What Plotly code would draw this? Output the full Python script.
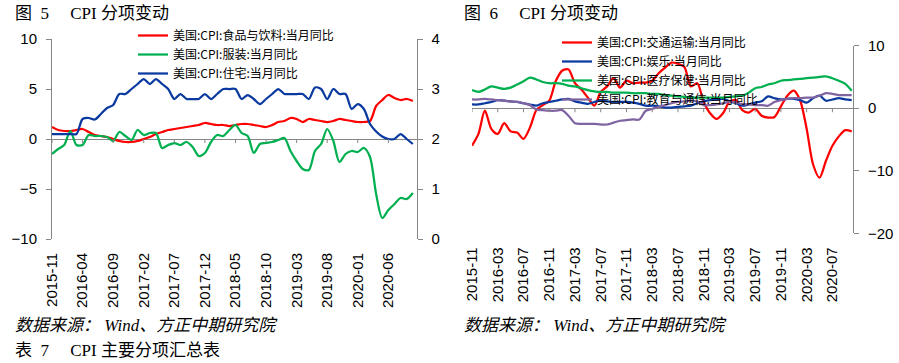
import pandas as pd
import plotly.graph_objects as go

# ---------------- data ----------------
months = list(pd.period_range("2015-11", periods=60, freq="M").strftime("%Y-%m"))

left_ticks = ["2015-11", "2016-04", "2016-09", "2017-02", "2017-07", "2017-12",
              "2018-05", "2018-10", "2019-03", "2019-08", "2020-01", "2020-06"]
right_ticks = ["2015-11", "2016-03", "2016-07", "2016-11", "2017-03", "2017-07",
               "2017-11", "2018-03", "2018-07", "2018-11", "2019-03", "2019-07",
               "2019-11", "2020-03", "2020-07"]

# Figure 5 (left chart)
food = [1.2, 0.9, 0.8, 0.8, 0.9, 1.0, 0.7, 0.4, 0.3, 0.2,
        0.0, -0.2, -0.3, -0.3, -0.2, 0.0, 0.2, 0.5, 0.7, 0.9,
        1.0, 1.1, 1.2, 1.3, 1.4, 1.6, 1.5, 1.4, 1.4, 1.3,
        1.4, 1.5, 1.5, 1.4, 1.3, 1.2, 1.4, 1.7, 1.8, 2.1,
        2.0, 1.7, 2.0, 1.9, 1.8, 1.7, 1.8, 2.0, 1.9, 1.8,
        1.7, 1.7, 1.8, 3.3, 3.9, 4.4, 4.1, 3.9, 4.0, 3.8]
apparel = [-1.5, -1.0, -0.6, 0.8, -0.6, -0.6, 0.4, 0.3, 0.3, 0.2,
           -0.2, 0.7, 0.3, -0.1, 0.9, 0.4, 0.6, 0.6, -0.9, -0.6,
           -0.4, -0.6, -0.3, -0.8, -1.7, -1.4, -0.3, 0.4, 0.3, 0.9,
           1.4, 0.6, 0.3, -1.4, -0.5, -0.4, -0.3, -0.1, 0.1, -1.2,
           -2.2, -3.0, -3.1, -1.2, -0.5, 1.0, -0.2, -2.3, -1.5, -1.2,
           -1.3, -0.9, -1.8, -5.5, -7.9, -7.1, -6.5, -5.9, -6.0, -5.4]
housing = [2.1, 2.1, 2.1, 2.1, 2.1, 2.4, 2.42, 2.39, 2.5, 2.62,
           2.68, 2.9, 2.9, 3.0, 3.1, 3.2, 3.1, 3.2, 3.1, 3.0,
           2.8, 2.9, 2.8, 2.8, 2.8, 2.9, 2.8, 2.9, 3.0, 3.0,
           3.0, 2.8, 2.88, 2.8, 2.7, 2.8, 2.9, 3.0, 2.9, 2.9,
           2.9, 2.9, 2.8, 3.03, 3.0, 2.8, 3.0, 2.9, 2.9, 2.6,
           2.7, 2.6, 2.3, 2.15, 2.05, 2.0, 2.0, 2.1, 2.0, 1.9]

# Figure 6 (right chart)
transport = [-6.0, -4.1, -0.4, -3.3, -4.1, -2.4, -3.7, -3.9, -4.9, -3.1,
             -0.3, 0.5, 1.2, 4.3, 6.0, 6.2, 4.0, 3.0, 1.7, 0.4,
             2.6, 3.5, 4.8, 3.3, 4.4, 4.0, 4.1, 4.1, 4.4, 5.6,
             6.5, 7.3, 7.1, 6.6, 3.5, 4.0, 1.0, -0.8, -1.7, -0.8,
             1.0, 1.3, -0.3, -0.7, -0.1, -1.2, -1.5, -1.4, 0.3, 2.0,
             2.8, 1.2, -3.3, -9.0, -11.1, -8.4, -6.0, -4.5, -3.5, -3.7]
recreation = [0.6, 0.6, 0.8, 1.0, 1.3, 1.2, 1.1, 1.0, 0.8, 0.6,
              0.4, 0.8, 1.0, 1.2, 1.4, 1.5, 1.1, 0.9, 0.7, 1.0,
              1.2, 1.1, 1.0, 1.0, 1.0, 0.9, 0.7, 0.4, 0.4, 0.3,
              0.1, 0.1, 0.2, 0.3, 0.4, 0.8, 1.1, 1.3, 1.4, 1.5,
              1.1, 0.8, 0.4, 0.6, 0.9, 1.1, 1.9, 1.6, 1.4, 1.5,
              1.5, 1.3, 0.9, 1.6, 2.0, 1.2, 1.4, 1.6, 1.4, 1.3]
medical = [2.9, 2.6, 3.0, 3.5, 3.3, 3.1, 3.3, 3.8, 4.3, 4.9,
           4.6, 4.2, 4.0, 4.0, 3.9, 3.6, 3.5, 3.2, 2.9, 2.7,
           2.6, 2.6, 2.5, 2.5, 2.5, 2.4, 2.4, 2.4, 2.3, 2.3,
           2.1, 2.0, 1.9, 1.8, 1.7, 1.7, 1.7, 1.7, 1.7, 1.7,
           1.8, 1.9, 2.0, 2.5, 3.2, 3.4, 3.8, 4.0, 4.4, 4.5,
           4.6, 4.7, 4.8, 4.9, 5.0, 5.1, 4.8, 4.4, 3.9, 2.8]
education = [1.4, 1.4, 1.5, 1.4, 1.3, 1.2, 1.1, 1.0, 0.8, 0.5,
             -0.2, -0.3, -0.4, -0.4, -0.3, -1.2, -2.4, -2.5, -2.5, -2.5,
             -2.6, -2.6, -2.3, -2.0, -1.9, -1.8, -1.8, -0.4, -0.1, 0.2,
             0.5, 0.8, 1.0, 1.1, 1.2, 1.1, 0.5, 0.5, 0.6, 0.8,
             1.0, 0.9, 0.7, 0.6, 0.5, 0.5, 0.4, 1.0, 1.3, 1.5,
             1.6, 1.6, 1.7, 1.7, 2.0, 2.4, 2.3, 2.1, 2.1, 2.1]

# ---------------- layout helpers ----------------
W, H = 899, 363


def px(x):
    return x / W


def py(y):
    return 1 - y / H


AXIS_GRAY = "#868686"
TICK_FONT = dict(family="Liberation Sans, Arial, sans-serif", size=15, color="#000000")
LEG_FONT = dict(family="Noto Sans CJK SC, sans-serif", size=12, color="#000000")
TXT_FONT = "Liberation Serif, Noto Sans CJK SC, serif"

RED, GREEN, BLUE, PURPLE = "#FF0000", "#00B050", "#0A3A9F", "#8064A2"


def line(color):
    return dict(color=color, width=2.25, shape="spline", smoothing=0.8)


fig = go.Figure()

# left chart
fig.add_trace(go.Scatter(x=months, y=food, name="美国:CPI:食品与饮料:当月同比",
                         xaxis="x", yaxis="y", mode="lines", line=line(RED), legend="legend"))
fig.add_trace(go.Scatter(x=months, y=apparel, name="美国:CPI:服装:当月同比",
                         xaxis="x", yaxis="y", mode="lines", line=line(GREEN), legend="legend"))
fig.add_trace(go.Scatter(x=months, y=housing, name="美国:CPI:住宅:当月同比",
                         xaxis="x", yaxis="y2", mode="lines", line=line(BLUE), legend="legend"))

# right chart
fig.add_trace(go.Scatter(x=months, y=transport, name="美国:CPI:交通运输:当月同比",
                         xaxis="x2", yaxis="y3", mode="lines", line=line(RED), legend="legend2"))
fig.add_trace(go.Scatter(x=months, y=recreation, name="美国:CPI:娱乐:当月同比",
                         xaxis="x2", yaxis="y3", mode="lines", line=line(BLUE), legend="legend2"))
fig.add_trace(go.Scatter(x=months, y=medical, name="美国:CPI:医疗保健:当月同比",
                         xaxis="x2", yaxis="y3", mode="lines", line=line(GREEN), legend="legend2"))
fig.add_trace(go.Scatter(x=months, y=education, name="美国:CPI:教育与通信:当月同比",
                         xaxis="x2", yaxis="y3", mode="lines", line=line(PURPLE), legend="legend2"))

xcommon = dict(type="category", tickangle=-90, ticks="outside", ticklen=7,
               tickcolor="rgba(0,0,0,0)", showline=False, showgrid=False, zeroline=False,
               tickfont=TICK_FONT, automargin=False, fixedrange=True)
ycommon = dict(showline=True, linecolor=AXIS_GRAY, linewidth=1, ticks="outside", ticklen=5,
               tickcolor=AXIS_GRAY, showgrid=False, tickfont=TICK_FONT, automargin=False,
               fixedrange=True, ticklabelstandoff=6)

fig.update_layout(
    width=W, height=H,
    margin=dict(l=0, r=0, t=0, b=0),
    paper_bgcolor="white", plot_bgcolor="white",
    xaxis=dict(domain=[px(52), px(416.5)], range=[0, 59.6], tickvals=left_ticks,
               anchor="y", **xcommon),
    yaxis=dict(domain=[py(239), py(39)], range=[-10, 10], dtick=5, anchor="x",
               zeroline=True, zerolinecolor=AXIS_GRAY, zerolinewidth=1, **ycommon),
    yaxis2=dict(overlaying="y", side="right", anchor="x", range=[0, 4], dtick=1,
                zeroline=False, **ycommon),
    xaxis2=dict(domain=[px(472), px(853)], range=[0, 59.2], tickvals=right_ticks,
                anchor="y3", **xcommon),
    yaxis3=dict(domain=[py(233.3), py(45.7)], range=[-20, 10], dtick=10, anchor="x2",
                side="right", zeroline=True, zerolinecolor=AXIS_GRAY, zerolinewidth=1,
                **ycommon),
    legend=dict(x=px(133), y=py(21), xanchor="left", yanchor="top",
                bgcolor="rgba(0,0,0,0)", font=LEG_FONT, tracegroupgap=0),
    legend2=dict(x=px(557), y=py(28), xanchor="left", yanchor="top",
                 bgcolor="rgba(0,0,0,0)", font=LEG_FONT, tracegroupgap=0),
    showlegend=True,
)

# small tick marks hanging from the zero lines
shapes = []
for t in left_ticks:
    shapes.append(dict(type="line", xref="x", yref="y", x0=t, x1=t, ysizemode="pixel",
                       yanchor=0, y0=0, y1=-4, line=dict(color=AXIS_GRAY, width=1)))
for t in right_ticks:
    shapes.append(dict(type="line", xref="x2", yref="y3", x0=t, x1=t, ysizemode="pixel",
                       yanchor=0, y0=0, y1=-4, line=dict(color=AXIS_GRAY, width=1)))
fig.update_layout(shapes=shapes)

# titles and notes
notes = [
    ("图\u20025\u3000 CPI 分项变动", 13, 13, False),
    ("图\u20026\u3000 CPI 分项变动", 462, 13, False),
    ("数据来源： Wind、方正中期研究院", 13, 325, True),
    ("数据来源： Wind、方正中期研究院", 462, 325, True),
    ("表\u20027\u3000 CPI 主要分项汇总表", 13, 350, False),
]
for text, x, y, ital in notes:
    fig.add_annotation(text=f"<i>{text}</i>" if ital else text, xref="paper", yref="paper",
                       x=px(x), y=py(y), xanchor="left", yanchor="middle", showarrow=False,
                       font=dict(family=TXT_FONT, size=17, color="#000000"))

fig.write_html("out.html", config={"displayModeBar": False},
               post_script="document.body.style.margin='0';document.body.style.overflow='hidden';")
